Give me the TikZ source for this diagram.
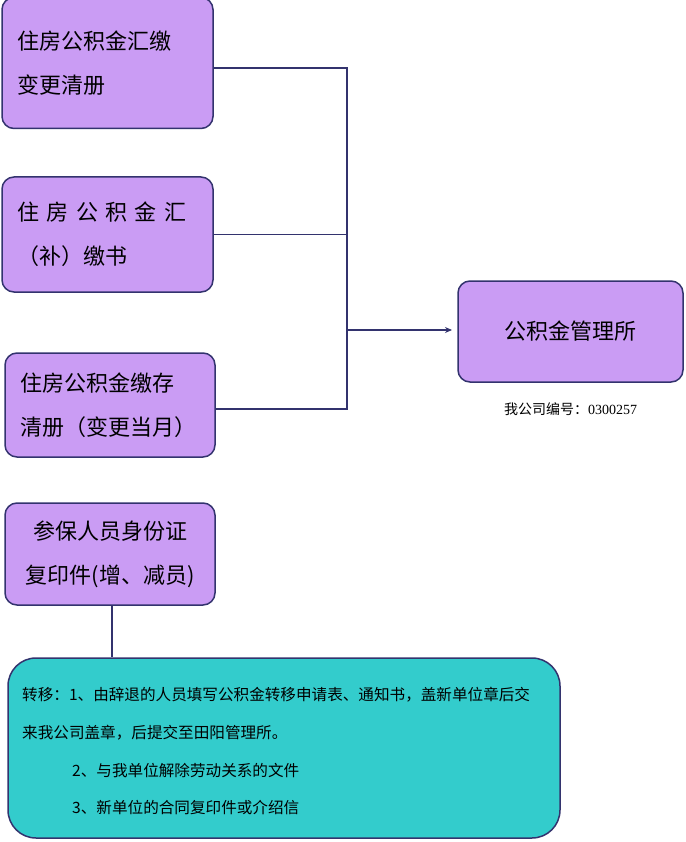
\documentclass[tikz,border=0pt]{standalone}
\usepackage{fontspec}
\setmainfont{Noto Sans CJK SC}
\newfontfamily\capfont{Liberation Serif}
\newfontfamily\cjkserif{Noto Sans CJK SC}
\usetikzlibrary{positioning,arrows.meta}
\definecolor{boxpurple}{HTML}{CA9CF4}
\definecolor{boxedge}{HTML}{33336E}
\definecolor{boxteal}{HTML}{33CCCC}
\tikzstyle{docbox}=[rectangle, rounded corners=12pt, draw=boxedge, fill=boxpurple, line width=1.5pt, inner sep=0pt, align=left, font=\fontsize{22}{44}\selectfont]
\tikzstyle{notebox}=[rectangle, rounded corners=28pt, draw=boxedge, fill=boxteal, line width=1.5pt]
\tikzstyle{line}=[-, line width=1.3pt, draw=boxedge]
\tikzstyle{note}=[anchor=west, inner sep=0pt, font=\fontsize{15.6}{15.6}\selectfont]
\begin{document}
\begin{tikzpicture}[x=1pt,y=-1pt]
\useasboundingbox (0,0) rectangle (685,842);

% source documents
\node (hj) [docbox, minimum width=211pt, minimum height=131pt, text width=180pt] at (107.5,63) {住房公积金汇缴\\变更清册};
\node (bj) [docbox, minimum width=211pt, minimum height=115pt, text width=180pt] at (107.5,234.5) {住\,\,房\,\,公\,\,积\,\,金\,\,汇\\（补）缴书};
\node (jc) [docbox, minimum width=210pt, minimum height=104pt, text width=180pt] at (110,405) {住房公积金缴存\\清册（变更当月）};
\node (sfz) [docbox, minimum width=210pt, minimum height=102pt, text width=180pt, align=center] at (110,554) {参保人员身份证\\复印件(增、减员)};

\node (gl) [docbox, minimum width=225pt, minimum height=101pt, align=center] at (570.5,331.5) {公积金管理所};
\node (bh) [below=20pt of gl, font=\fontsize{14}{14}\selectfont, inner sep=0pt] {\cjkserif 我公司编号：\capfont 0300257};

% transfer notes
\node (zy) [notebox, minimum width=552pt, minimum height=180pt] at (284,748) {};
\node (t1) [note] at (22,695) {转移：1、由辞退的人员填写公积金转移申请表、通知书，盖新单位章后交};
\node (t2) [note] at (22,733) {来我公司盖章，后提交至田阳管理所。};
\node (t3) [note] at (72,771) {2、与我单位解除劳动关系的文件};
\node (t4) [note] at (72,808) {3、新单位的合同复印件或介绍信};

\coordinate (top) at (347,68);
\coordinate (bot) at (347,409);
\coordinate (mid) at (347,330);
\coordinate (drop) at (112,0);
\draw[line] (hj.east |- top) -- (top) -- (bot) -- (jc.east |- bot);
\draw[line] (bj.east) -- (bj.east -| top);
\draw[line, -{Stealth[length=7pt,width=6pt]}] (mid) -- ++(105,0);
\draw[line] (drop |- sfz.south) -- (drop |- zy.north);
\end{tikzpicture}
\end{document}
